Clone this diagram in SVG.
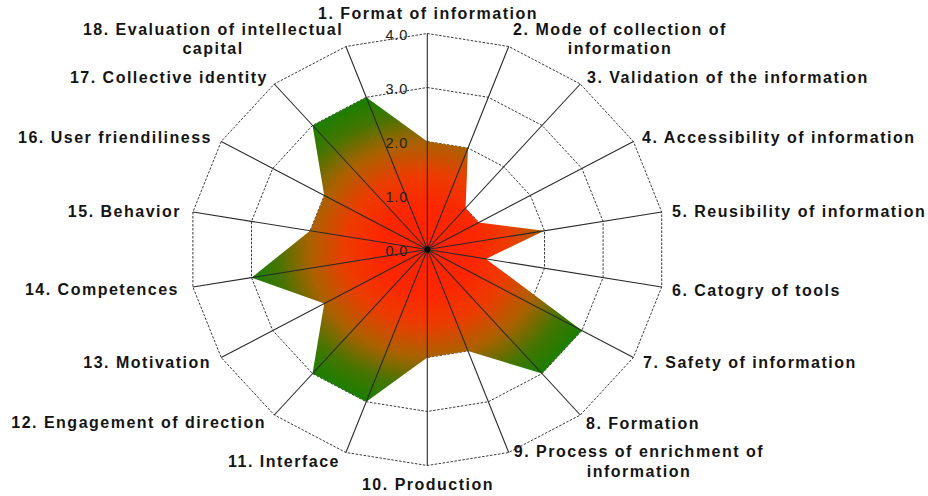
<svg xmlns="http://www.w3.org/2000/svg" width="928" height="496" viewBox="0 0 928 496">
<style>
.ring{fill:none;stroke:#3a3a3a;stroke-width:1;stroke-dasharray:2.5,1.5}
.axis{stroke:#2a2a2a;stroke-width:1.1}
.lbl{font-family:"Liberation Sans",Arial,sans-serif;font-size:16px;font-weight:bold;fill:#141414;letter-spacing:1.5px}
.tick{font-family:"Liberation Sans",Arial,sans-serif;font-size:14.5px;fill:#222;letter-spacing:0.8px}
.m{text-anchor:middle}
.e{text-anchor:end}
</style>
<defs>
<radialGradient id="g" gradientUnits="userSpaceOnUse" cx="427.3" cy="249.5" r="176" gradientTransform="translate(427.3 249.5) scale(1 0.9076) translate(-427.3 -249.5)">
<stop offset="0" stop-color="#ff2200"/>
<stop offset="0.28" stop-color="#fc2700"/>
<stop offset="0.47" stop-color="#ec3c00"/>
<stop offset="0.67" stop-color="#aa6200"/>
<stop offset="0.85" stop-color="#467500"/>
<stop offset="1" stop-color="#1c7e00"/>
</radialGradient>
</defs>
<rect width="928" height="496" fill="#fff"/>
<g id="rings">
<polygon class="ring" points="427.3,195.5 447.65,198.76 465.55,208.13 478.83,222.5 485.9,240.12 485.9,258.88 478.83,276.5 465.55,290.87 447.65,300.24 427.3,303.5 406.95,300.24 389.05,290.87 375.77,276.5 368.7,258.88 368.7,240.12 375.77,222.5 389.05,208.13 406.95,198.76"/>
<polygon class="ring" points="427.3,141.5 468,148.01 503.79,166.77 530.36,195.5 544.49,230.75 544.49,268.25 530.36,303.5 503.79,332.23 468,350.99 427.3,357.5 386.6,350.99 350.81,332.23 324.24,303.5 310.11,268.25 310.11,230.75 324.24,195.5 350.81,166.77 386.6,148.01"/>
<polygon class="ring" points="427.3,87.5 488.35,97.27 542.04,125.4 581.89,168.5 603.09,221.37 603.09,277.63 581.89,330.5 542.04,373.6 488.35,401.73 427.3,411.5 366.25,401.73 312.56,373.6 272.71,330.5 251.51,277.63 251.51,221.37 272.71,168.5 312.56,125.4 366.25,97.27"/>
<polygon class="ring" points="427.3,33.5 508.7,46.5 580.3,84 633.4,141.5 661.7,212 661.7,287 633.4,357.5 580.3,415 508.7,452.5 427.3,465.5 345.9,452.5 274.3,415 221.2,357.5 192.9,287 192.9,212 221.2,141.5 274.3,84 345.9,46.5"/>
</g>
<g id="data">
<polygon fill="url(#g)" points="427.3,141.5 468,148.01 465.55,208.13 478.83,222.5 544.49,230.75 485.9,258.88 581.89,330.5 542.04,373.6 468,350.99 427.3,357.5 366.25,401.73 312.56,373.6 324.24,303.5 251.51,277.63 310.11,230.75 324.24,195.5 312.56,125.4 366.25,97.27"/>
</g>
<g id="connectors">
<line class="axis" x1="427.3" y1="249.5" x2="427.3" y2="33.5"/>
<line class="axis" x1="427.3" y1="249.5" x2="508.7" y2="46.5"/>
<line class="axis" x1="427.3" y1="249.5" x2="580.3" y2="84"/>
<line class="axis" x1="427.3" y1="249.5" x2="633.4" y2="141.5"/>
<line class="axis" x1="427.3" y1="249.5" x2="661.7" y2="212"/>
<line class="axis" x1="427.3" y1="249.5" x2="661.7" y2="287"/>
<line class="axis" x1="427.3" y1="249.5" x2="633.4" y2="357.5"/>
<line class="axis" x1="427.3" y1="249.5" x2="580.3" y2="415"/>
<line class="axis" x1="427.3" y1="249.5" x2="508.7" y2="452.5"/>
<line class="axis" x1="427.3" y1="249.5" x2="427.3" y2="465.5"/>
<line class="axis" x1="427.3" y1="249.5" x2="345.9" y2="452.5"/>
<line class="axis" x1="427.3" y1="249.5" x2="274.3" y2="415"/>
<line class="axis" x1="427.3" y1="249.5" x2="221.2" y2="357.5"/>
<line class="axis" x1="427.3" y1="249.5" x2="192.9" y2="287"/>
<line class="axis" x1="427.3" y1="249.5" x2="192.9" y2="212"/>
<line class="axis" x1="427.3" y1="249.5" x2="221.2" y2="141.5"/>
<line class="axis" x1="427.3" y1="249.5" x2="274.3" y2="84"/>
<line class="axis" x1="427.3" y1="249.5" x2="345.9" y2="46.5"/>
<circle cx="427.3" cy="249.5" r="3" fill="#000"/>
</g>
<g id="ticks">
<text class="tick" x="385.5" y="256">0.0</text>
<text class="tick" x="385.5" y="202">1.0</text>
<text class="tick" x="385.5" y="148">2.0</text>
<text class="tick" x="385.5" y="94">3.0</text>
<text class="tick" x="385.5" y="40">4.0</text>
</g>
<g id="label1"><text class="lbl m" x="428" y="19">1. Format of information</text></g>
<g id="label2"><text class="lbl m" x="620" y="35">2. Mode of collection of</text><text class="lbl m" x="620" y="54">information</text></g>
<g id="label3"><text class="lbl" x="587" y="83">3. Validation of the information</text></g>
<g id="label4"><text class="lbl" x="642" y="143">4. Accessibility of information</text></g>
<g id="label5"><text class="lbl" x="672" y="217">5. Reusibility of information</text></g>
<g id="label6"><text class="lbl" x="672" y="296">6. Catogry of tools</text></g>
<g id="label7"><text class="lbl" x="643" y="368">7. Safety of information</text></g>
<g id="label8"><text class="lbl" x="586" y="429">8. Formation</text></g>
<g id="label9"><text class="lbl m" x="639" y="457">9. Process of enrichment of</text><text class="lbl m" x="639" y="477">information</text></g>
<g id="label10"><text class="lbl m" x="428" y="490">10. Production</text></g>
<g id="label11"><text class="lbl e" x="340" y="467">11. Interface</text></g>
<g id="label12"><text class="lbl e" x="266" y="428">12. Engagement of direction</text></g>
<g id="label13"><text class="lbl e" x="211" y="368">13. Motivation</text></g>
<g id="label14"><text class="lbl e" x="179" y="295">14. Competences</text></g>
<g id="label15"><text class="lbl e" x="181" y="217">15. Behavior</text></g>
<g id="label16"><text class="lbl e" x="212" y="143">16. User friendiliness</text></g>
<g id="label17"><text class="lbl e" x="268" y="83">17. Collective identity</text></g>
<g id="label18"><text class="lbl m" x="213" y="35">18. Evaluation of intellectual</text><text class="lbl m" x="213" y="54">capital</text></g>
</svg>
